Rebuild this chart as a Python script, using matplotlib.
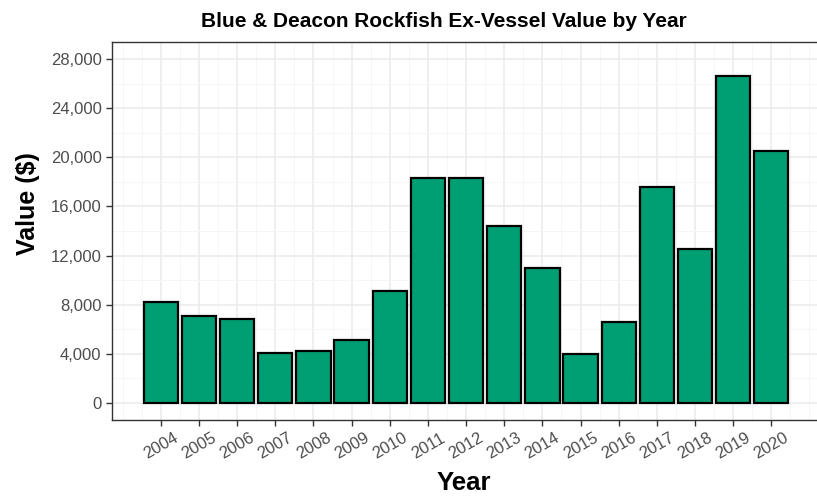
import matplotlib
matplotlib.use("Agg")
import matplotlib.pyplot as plt
from matplotlib.ticker import FuncFormatter, MultipleLocator

years = list(range(2004, 2021))
values = [8250, 7050, 6850, 4100, 4250, 5150, 9150, 18300, 18300, 14400,
          11000, 4000, 6600, 17600, 12500, 26630, 20500]
y_ticks = [0, 4000, 8000, 12000, 16000, 20000, 24000, 28000]

plt.rcParams['font.family'] = ['Liberation Sans', 'DejaVu Sans']

W, H = 817, 498
fig = plt.figure(figsize=(W/100, H/100), dpi=100)
left, right, top, bottom = 112, 819, 42, 420
ax = fig.add_axes([left/W, 1-bottom/H, (right-left)/W, (bottom-top)/H])

ax.bar(years, values, width=0.9, color='#009E73', edgecolor='black', linewidth=1.6, zorder=3)

ax.set_xlim(2002.72, 2021.25)
ax.set_ylim(-1400, 29400)
ax.set_xticks(years)
ax.set_xticklabels([str(y) for y in years], rotation=30, ha='center', va='top')
ax.set_yticks(y_ticks)
ax.yaxis.set_major_formatter(FuncFormatter(lambda v, p: f"{int(v):,}"))
ax.yaxis.set_minor_locator(MultipleLocator(2000))
ax.xaxis.set_minor_locator(MultipleLocator(0.5))

ax.grid(which='major', color='#EBEBEB', linewidth=1.1, zorder=0)
ax.grid(which='minor', color='#F5F5F5', linewidth=0.6, zorder=0)
ax.set_axisbelow(True)
ax.tick_params(which='minor', length=0)
ax.tick_params(which='major', length=4, color='#333333', labelcolor='#4D4D4D', labelsize=12, width=1)
for s in ax.spines.values():
    s.set_color('#333333')
    s.set_linewidth(1.0)

fig.text(444/W, 1-27/H, "Blue & Deacon Rockfish Ex-Vessel Value by Year",
         fontsize=15, fontweight='bold', ha='center', va='baseline')
fig.text(463.7/W, 1-490/H, "Year", fontsize=18.5, fontweight='bold', ha='center', va='baseline')
fig.text(28/W, 1-204/H, "Value ($)", fontsize=18, fontweight='bold', ha='center', va='center', rotation=90)

fig.savefig("out.png", dpi=100)
